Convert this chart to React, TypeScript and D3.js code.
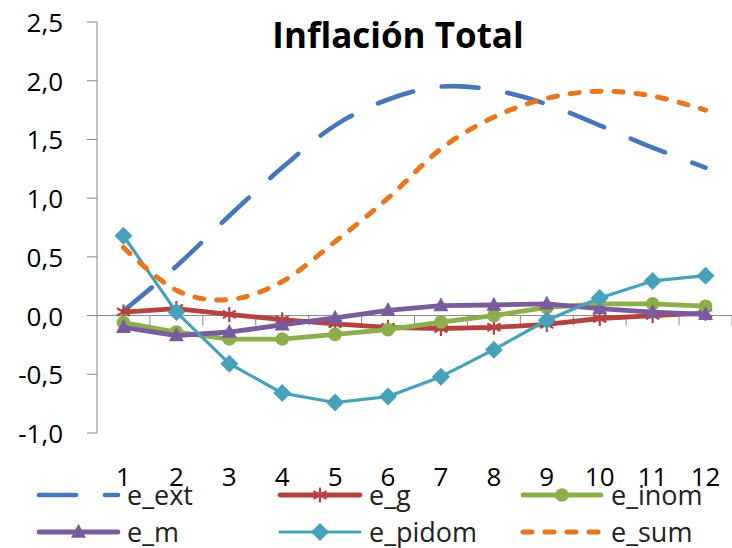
import React from "react";
import * as d3 from "d3";

// Horizon (months) and the six decomposition series of total inflation
const categories = ["1", "2", "3", "4", "5", "6", "7", "8", "9", "10", "11", "12"];
const eExt = [0.04, 0.42, 0.85, 1.26, 1.62, 1.84, 1.95, 1.92, 1.8, 1.62, 1.43, 1.26];
const eG = [0.03, 0.06, 0.01, -0.035, -0.07, -0.1, -0.11, -0.1, -0.075, -0.025, 0.0, 0.02];
const eInom = [-0.06, -0.14, -0.2, -0.2, -0.16, -0.12, -0.055, 0.0, 0.07, 0.1, 0.1, 0.08];
const eM = [-0.1, -0.17, -0.14, -0.08, -0.02, 0.045, 0.085, 0.09, 0.1, 0.06, 0.03, 0.01];
const ePidom = [0.68, 0.03, -0.41, -0.66, -0.74, -0.69, -0.52, -0.29, -0.04, 0.15, 0.295, 0.34];
const eSum = [0.58, 0.215, 0.136, 0.29, 0.63, 1.0, 1.42, 1.69, 1.85, 1.91, 1.87, 1.75];
const yTicks = [-1, -0.5, 0, 0.5, 1, 1.5, 2, 2.5];
const title = "Inflación Total";

type Marker = "none" | "asterisk" | "circle" | "triangle" | "diamond";
interface Series {
  name: string;
  values: number[];
  color: string;
  width: number;
  dash?: string;
  smooth: boolean;
  marker: Marker;
}

const series: Series[] = [
  { name: "e_ext", values: eExt, color: "#4677B8", width: 4.6, dash: "37 29", smooth: true, marker: "none" },
  { name: "e_g", values: eG, color: "#B5423F", width: 4.8, smooth: false, marker: "asterisk" },
  { name: "e_inom", values: eInom, color: "#8CAF4C", width: 4.8, smooth: false, marker: "circle" },
  { name: "e_m", values: eM, color: "#7A5C9E", width: 4.8, smooth: false, marker: "triangle" },
  { name: "e_pidom", values: ePidom, color: "#46A2BA", width: 3.2, smooth: false, marker: "diamond" },
  { name: "e_sum", values: eSum, color: "#E8761E", width: 5, dash: "9 13", smooth: true, marker: "none" },
];

const W = 732;
const H = 548;
const FONT = "'Open Sans', 'Noto Sans', sans-serif";
const AXIS = "#878787";

const x = d3.scaleBand<string>().domain(categories).range([97, 732]);
const y = d3.scaleLinear().domain([-1, 2.5]).range([433, 22]);
const cx = (c: string) => (x(c) ?? 0) + x.bandwidth() / 2;

function MarkerShape({ kind, px, py, color }: { kind: Marker; px: number; py: number; color: string }) {
  if (kind === "circle") return <circle cx={px} cy={py} r={6.8} fill={color} />;
  if (kind === "diamond") {
    const r = 9;
    return <path d={`M${px},${py - r}L${px + r},${py}L${px},${py + r}L${px - r},${py}Z`} fill={color} />;
  }
  if (kind === "triangle") {
    const s = 7.5;
    return (
      <path d={`M${px},${py - s * 1.1}L${px + s},${py + s * 0.75}L${px - s},${py + s * 0.75}Z`} fill={color} />
    );
  }
  if (kind === "asterisk") {
    const s = 7.5;
    const d = s * 0.87;
    return (
      <path
        d={`M${px},${py - s}L${px},${py + s}M${px - d},${py - s / 2}L${px + d},${py + s / 2}M${px - d},${py + s / 2}L${px + d},${py - s / 2}`}
        stroke={color}
        strokeWidth={2.2}
        fill="none"
      />
    );
  }
  return null;
}

export default function App() {
  const lineFor = (s: Series) =>
    d3
      .line<number>()
      .x((_, i) => cx(categories[i]))
      .y((v) => y(v))
      .curve(s.smooth ? d3.curveCardinal.tension(0) : d3.curveLinear)(s.values) ?? "";

  const boundaries = d3.range(1, categories.length + 1).map((i) => 97 + i * x.bandwidth());

  const legendCols = [
    { line: [37, 120], text: 127 },
    { line: [278, 362], text: 369 },
    { line: [521, 603], text: 611 },
  ];
  const legendRows = [495, 532];

  return (
    <svg width={W} height={H} style={{ position: "absolute", left: 0, top: 0, background: "#fff" }}>
      <rect width={W} height={H} fill="#fff" />
      {/* title */}
      <text x={398} y={48} textAnchor="middle" fontFamily={FONT} fontWeight={700} fontSize={35} fill="#000">
        {title}
      </text>

      {/* value axis */}
      <line x1={97} x2={97} y1={y(2.5)} y2={y(-1)} stroke={AXIS} strokeWidth={1} />
      {yTicks.map((t) => (
        <g key={t}>
          <line x1={87} x2={97} y1={y(t)} y2={y(t)} stroke={AXIS} strokeWidth={1} />
          <text x={63} y={y(t) + 10} textAnchor="end" fontFamily={FONT} fontSize={26} fill="#000">
            {d3.format(".1f")(t).replace(".", ",").replace("−", "-")}
          </text>
        </g>
      ))}

      {/* category axis at zero */}
      <line x1={97} x2={W} y1={y(0)} y2={y(0)} stroke={AXIS} strokeWidth={1} />
      {boundaries.map((b) => (
        <line key={b} x1={b} x2={b} y1={y(0)} y2={y(0) + 10} stroke={AXIS} strokeWidth={1} />
      ))}

      {/* series */}
      {series.map((s) => (
        <g key={s.name}>
          <path
            d={lineFor(s)}
            fill="none"
            stroke={s.color}
            strokeWidth={s.width}
            strokeDasharray={s.dash}
            strokeLinecap="round"
            strokeLinejoin="round"
          />
          {s.values.map((v, i) => (
            <MarkerShape key={i} kind={s.marker} px={cx(categories[i])} py={y(v)} color={s.color} />
          ))}
        </g>
      ))}

      {/* category labels */}
      {categories.map((c) => (
        <text key={c} x={cx(c)} y={486} textAnchor="middle" fontFamily={FONT} fontSize={26} fill="#000">
          {c}
        </text>
      ))}

      {/* legend */}
      {series.map((s, i) => {
        const col = legendCols[i % 3];
        const ly = legendRows[Math.floor(i / 3)];
        const mid = (col.line[0] + col.line[1]) / 2;
        return (
          <g key={s.name}>
            <line
              x1={col.line[0] + 2}
              x2={col.line[1] - 2}
              y1={ly}
              y2={ly}
              stroke={s.color}
              strokeWidth={s.width}
              strokeDasharray={s.dash}
              strokeLinecap="round"
            />
            <MarkerShape kind={s.marker} px={mid} py={ly} color={s.color} />
            <text x={col.text} y={ly + 10} fontFamily={FONT} fontSize={27} fill="#222">
              {s.name}
            </text>
          </g>
        );
      })}
    </svg>
  );
}
